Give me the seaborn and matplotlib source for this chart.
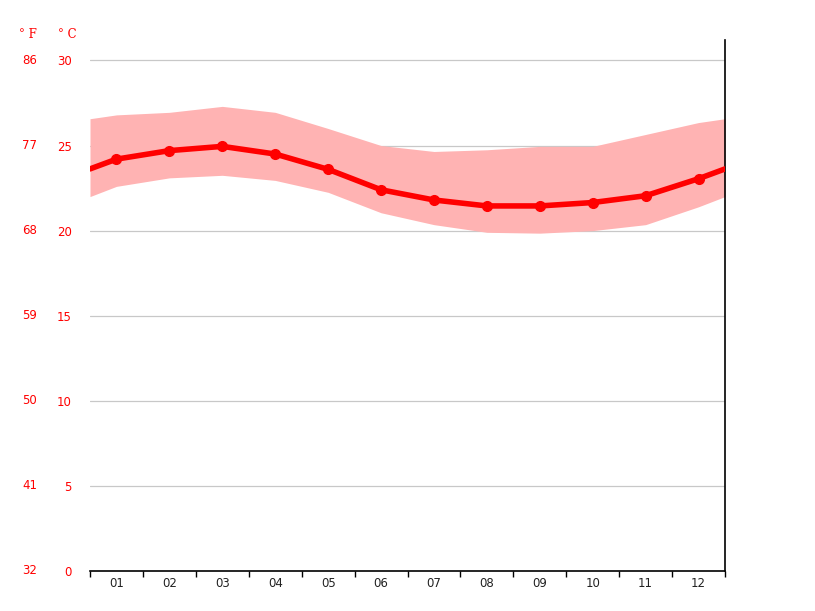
import numpy as np
import pandas as pd
import seaborn as sns
from matplotlib import pyplot as plt
from matplotlib import transforms

months = ["01", "02", "03", "04", "05", "06", "07", "08", "09", "10", "11", "12"]
mean_c = [24.2, 24.7, 24.95, 24.5, 23.6, 22.4, 21.8, 21.45, 21.45, 21.65, 22.05, 23.05]
high_c = [26.8, 26.95, 27.3, 26.95, 26.0, 25.0, 24.65, 24.75, 24.95, 24.95, 25.65, 26.35]
low_c = [22.6, 23.1, 23.25, 22.95, 22.25, 21.05, 20.35, 19.9, 19.85, 20.0, 20.35, 21.4]
c_ticks = [0, 5, 10, 15, 20, 25, 30]
f_ticks = [32, 41, 50, 59, 68, 77, 86]

red = "#ff0000"
band = "#ffb3b3"

sns.set_style("white")
plt.rcParams["font.family"] = ["DejaVu Sans"]

fig = plt.figure(figsize=(8.15, 6.11), dpi=100)
ax = fig.add_axes([90 / 815, 40 / 611, 635 / 815, 531 / 611])

# month centres plus wrap-around edges (mean of Dec and Jan)
xs = np.arange(len(months)) + 0.5
def wrap(v):
    edge = (v[0] + v[-1]) / 2
    return np.r_[0, xs, 12], np.r_[edge, v, edge]

bx, bhi = wrap(high_c)
_, blo = wrap(low_c)
ax.fill_between(bx, blo, bhi, color=band, lw=0, zorder=1)

lx, ly = wrap(mean_c)
df = pd.DataFrame({"x": lx, "t": ly})
sns.lineplot(data=df, x="x", y="t", ax=ax, color=red, lw=4, zorder=3)
ax.plot(xs, mean_c, "o", color=red, ms=7, zorder=4)

ax.set_xlim(0, 12)
ax.set_ylim(0, 31.2)
for c in c_ticks[1:]:
    ax.axhline(c, color="#c8c8c8", lw=0.9, zorder=0)

for s in ["top", "left"]:
    ax.spines[s].set_visible(False)
ax.spines["right"].set_color("black")
ax.spines["right"].set_linewidth(1.2)
ax.spines["bottom"].set_color("black")
ax.spines["bottom"].set_linewidth(1.2)

ax.set_xticks(np.arange(13))
ax.set_xticklabels([])
ax.set_xticks(xs, minor=True)
ax.set_xticklabels(months, minor=True, fontsize=8.5, color="#222222")
ax.tick_params(axis="x", which="major", direction="out", length=4, width=1, color="black", bottom=True)
ax.tick_params(axis="x", which="minor", length=0, pad=4)

ax.set_yticks(c_ticks)
ax.set_yticklabels([str(c) for c in c_ticks], fontsize=8.5, color=red)
ax.tick_params(axis="y", length=0, pad=13, left=True)
ax.set_xlabel("")
ax.set_ylabel("")

tr = transforms.blended_transform_factory(fig.transFigure, ax.transData)
for c, f in zip(c_ticks, f_ticks):
    ax.text(37 / 815, c, str(f), transform=tr, ha="right", va="center",
            fontsize=8.5, color=red, clip_on=False)
hdr = transforms.blended_transform_factory(fig.transFigure, ax.transAxes)
ax.text(37 / 815, 1.01, "° F", transform=hdr, ha="right", va="center",
        fontsize=8.5, color=red, family="DejaVu Serif")
ax.text(77 / 815, 1.01, "° C", transform=hdr, ha="right", va="center",
        fontsize=8.5, color=red, family="DejaVu Serif")

fig.savefig("out.png", dpi=100)
